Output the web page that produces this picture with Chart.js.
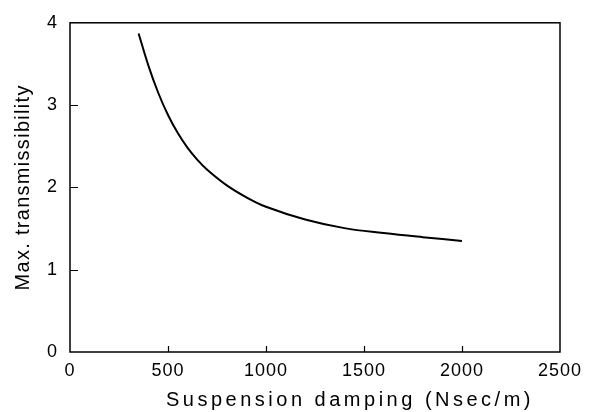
<!DOCTYPE html>
<html><head><meta charset="utf-8">
<script src="https://cdn.jsdelivr.net/npm/chart.js@4.4.0/dist/chart.umd.min.js"></script>
<style>html,body{margin:0;padding:0;background:#fff}#w{width:596px;height:412px}</style>
</head><body><div id="w"><canvas id="c"></canvas></div>
<script>
const damping = [350, 400, 450, 500, 550, 600, 650, 700, 800, 900, 1000, 1200, 1400, 1600, 1800, 2000];
const transmissibility = [3.87, 3.48, 3.15, 2.88, 2.66, 2.48, 2.335, 2.215, 2.025, 1.88, 1.765, 1.61, 1.505, 1.445, 1.395, 1.35];
const xTicks = [0, 500, 1000, 1500, 2000, 2500];
const yTicks = [0, 1, 2, 3, 4];
const xTitle = 'Suspension damping (Nsec/m)';
const yTitle = 'Max. transmissibility';

const FONT = 'Liberation Sans';

function patchScale(s, titleSpacing, dx, dy) {
  if (s._patched) return;
  s._patched = true;
  const t = s.drawTitle.bind(s);
  s.drawTitle = function () {
    const c = this.ctx; c.save(); c.letterSpacing = titleSpacing; c.translate(dx, dy); t(); c.restore();
  };
  const l = s.drawLabels.bind(s);
  s.drawLabels = function (a) {
    const c = this.ctx; c.save(); c.letterSpacing = '1px'; l(a); c.restore();
  };
}

const boxPlugin = {
  id: 'box',
  afterDraw(chart) {
    const {ctx, chartArea: a, scales} = chart;
    ctx.save();
    ctx.strokeStyle = '#000';
    ctx.lineWidth = 1.5;
    ctx.strokeRect(a.left, a.top, a.right - a.left, a.bottom - a.top);
    ctx.lineWidth = 1.2;
    ctx.beginPath();
    xTicks.slice(1, -1).forEach(v => {
      const px = Math.round(scales.x.getPixelForValue(v)) + 0.5;
      ctx.moveTo(px, a.bottom); ctx.lineTo(px, a.bottom - 6);
    });
    yTicks.slice(1, -1).forEach(v => {
      const py = Math.round(scales.y.getPixelForValue(v)) + 0.5;
      ctx.moveTo(a.left, py); ctx.lineTo(a.left + 8, py);
    });
    ctx.stroke();
    ctx.restore();
  }
};

new Chart(document.getElementById('c'), {
  type: 'line',
  data: {
    datasets: [{
      data: damping.map((x, i) => ({x, y: transmissibility[i]})),
      borderColor: '#000', borderWidth: 2, pointRadius: 0,
      tension: 0.4, fill: false
    }]
  },
  options: {
    responsive: true, maintainAspectRatio: false, animation: false,
    layout: {padding: {left: 0, right: 36, top: 15, bottom: 0}},
    plugins: {legend: {display: false}, tooltip: {enabled: false}},
    scales: {
      x: {
        type: 'linear', min: 0, max: 2500,
        afterBuildTicks(s) { s.ticks = xTicks.map(v => ({value: v})); },
        afterFit(s) { s.height = 60; patchScale(s, '3.5px', 35, 0); },
        grid: {display: false, drawTicks: false}, border: {display: false},
        ticks: {color: '#000', font: {family: FONT, size: 18}, padding: 8, maxRotation: 0,
                callback: v => String(v)},
        title: {display: true, text: xTitle, color: '#000', font: {family: FONT, size: 20}, padding: {top: 2, bottom: 0}}
      },
      y: {
        type: 'linear', min: 0, max: 4,
        afterBuildTicks(s) { s.ticks = yTicks.map(v => ({value: v})); },
        afterFit(s) { s.width = 70; patchScale(s, '1.3px', 0, 0); },
        grid: {display: false, drawTicks: false}, border: {display: false},
        ticks: {color: '#000', font: {family: FONT, size: 18}, padding: 12, callback: v => String(v)},
        title: {display: true, text: yTitle, color: '#000', font: {family: FONT, size: 20}, padding: {top: 11, bottom: 0}}
      }
    }
  },
  plugins: [boxPlugin]
});
</script></body></html>
